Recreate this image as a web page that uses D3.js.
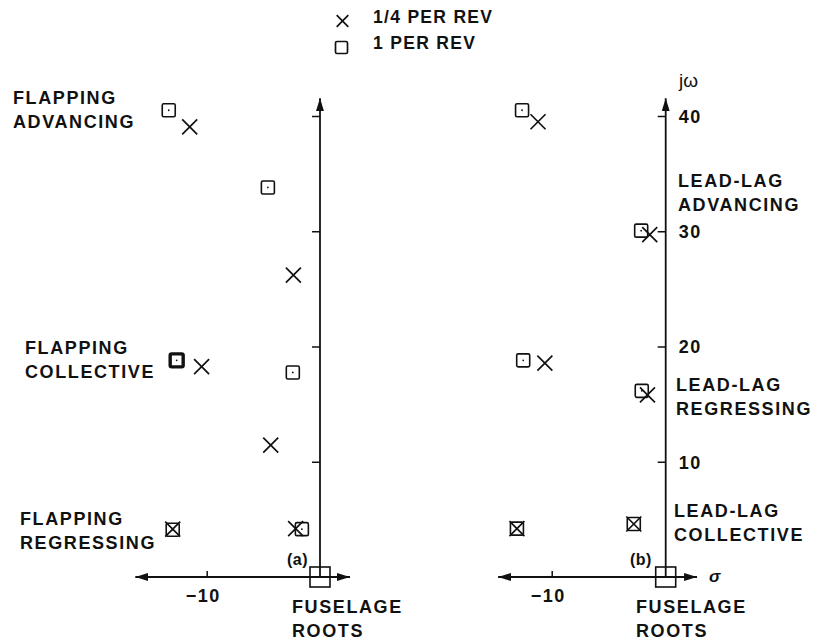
<!DOCTYPE html>
<html>
<head>
<meta charset="utf-8">
<script src="https://cdn.jsdelivr.net/npm/d3@7"></script>
<style>
body { margin: 0; background: #fff; }
text { font-family: "Liberation Sans", Arial, sans-serif; fill: #111; }
</style>
</head>
<body>
<div id="chart"></div>
<script>
// root locations [sigma, omega]
const quarterRevA = [[-11.5, 39.05], [-2.35, 26.2], [-10.45, 18.25], [-4.35, 11.45], [-13.0, 4.15], [-2.15, 4.2]];
const oneRevA = [[-13.35, 40.5], [-4.6, 33.8], [-12.65, 18.8], [-2.4, 17.75], [-13.0, 4.1], [-1.6, 4.15]];
const quarterRevB = [[-11.2, 39.5], [-1.4, 29.7], [-10.6, 18.55], [-1.6, 15.8], [-13.05, 4.2], [-2.8, 4.6]];
const oneRevB = [[-12.6, 40.5], [-2.15, 30.05], [-12.5, 18.8], [-2.1, 16.15], [-13.05, 4.2], [-2.8, 4.6]];
const doubleRootsA = [[-12.65, 18.8]];
const fuselageRoots = [[0, 0]];

const omegaTicks = [10, 20, 30, 40];
const sigmaTicks = [-10];
const legendLabels = ['1/4 PER REV', '1 PER REV'];

const width = 815, height = 642;

const svg = d3.select('#chart')
    .append('svg')
    .attr('width', width)
    .attr('height', height);

svg.append('defs').append('marker')
    .attr('id', 'arrow')
    .attr('viewBox', '0 0 13 8')
    .attr('refX', 13)
    .attr('refY', 4)
    .attr('markerWidth', 13)
    .attr('markerHeight', 8)
    .attr('markerUnits', 'userSpaceOnUse')
    .attr('orient', 'auto-start-reverse')
    .append('path')
    .attr('d', 'M0,0L13,4L0,8Z')
    .attr('fill', '#111');

let scaleY = d3.scaleLinear().domain([0, 40]).range([577, 116]);

const panels = [
    {x: d3.scaleLinear().domain([-10, 0]).range([206.7, 320]), quarter: quarterRevA, one: oneRevA,
     heavy: doubleRootsA, sMin: -16.3, sMax: 2.65, labels: false},
    {x: d3.scaleLinear().domain([-10, 0]).range([551.7, 665.7]), quarter: quarterRevB, one: oneRevB,
     heavy: [], sMin: -14.7, sMax: 2.75, labels: true}
];

const crossPath = s => `M${-s},${-s}L${s},${s}M${-s},${s}L${s},${-s}`;

panels.forEach(p => {
    let g = svg.append('g');
    let scaleX = p.x;

    // axes with arrows
    g.append('line')
        .attr('x1', scaleX(0)).attr('x2', scaleX(0))
        .attr('y1', scaleY(0)).attr('y2', scaleY(41.55))
        .attr('stroke', '#111').attr('stroke-width', 1.8)
        .attr('marker-end', 'url(#arrow)');
    g.append('line')
        .attr('x1', scaleX(p.sMin)).attr('x2', scaleX(p.sMax))
        .attr('y1', scaleY(0)).attr('y2', scaleY(0))
        .attr('stroke', '#111').attr('stroke-width', 1.8)
        .attr('marker-start', 'url(#arrow)')
        .attr('marker-end', 'url(#arrow)');

    let yAxis = d3.axisLeft(scaleY).tickValues(omegaTicks).tickSize(8)
        .tickFormat(p.labels ? d3.format('d') : '');
    let yAxisGroup = g.append('g')
        .attr('transform', 'translate(' + scaleX(0) + ',0)')
        .call(yAxis);
    yAxisGroup.select('.domain').remove();
    yAxisGroup.selectAll('line').attr('stroke', '#111').attr('stroke-width', 1.5);
    yAxisGroup.selectAll('text')
        .attr('x', 13).attr('dy', '0.36em')
        .attr('text-anchor', 'start')
        .style('font-size', '18px').style('font-weight', 'bold')
        .style('letter-spacing', '1.5px').style('fill', '#111');

    let xAxis = d3.axisTop(scaleX).tickValues(sigmaTicks).tickSize(6).tickFormat(d3.format('d'));
    let xAxisGroup = g.append('g')
        .attr('transform', 'translate(0,' + scaleY(0) + ')')
        .call(xAxis);
    xAxisGroup.select('.domain').remove();
    xAxisGroup.selectAll('line').attr('stroke', '#111').attr('stroke-width', 1.5);
    xAxisGroup.selectAll('text')
        .attr('y', 25).attr('dy', 0).attr('dx', -4)
        .style('font-size', '18px').style('font-weight', 'bold')
        .style('letter-spacing', '1.5px').style('fill', '#111');

    // 1 per rev squares
    let squares = g.selectAll('.sq').data(p.one).enter().append('g')
        .attr('class', 'sq')
        .attr('transform', d => 'translate(' + scaleX(d[0]) + ',' + scaleY(d[1]) + ')');
    squares.append('rect')
        .attr('x', -6.5).attr('y', -6.5).attr('width', 13).attr('height', 13).attr('rx', 1.5)
        .attr('fill', 'none').attr('stroke', '#111')
        .attr('stroke-width', d => p.heavy.some(h => h[0] == d[0] && h[1] == d[1]) ? 3.4 : 1.6);
    squares.append('circle').attr('r', 0.9).attr('fill', '#111');

    // 1/4 per rev crosses
    g.selectAll('.cross').data(p.quarter).enter().append('path')
        .attr('class', 'cross')
        .attr('d', crossPath(7.5))
        .attr('transform', d => 'translate(' + scaleX(d[0]) + ',' + scaleY(d[1]) + ')')
        .attr('fill', 'none').attr('stroke', '#111').attr('stroke-width', 1.7);

    // fuselage roots
    g.selectAll('.fus').data(fuselageRoots).enter().append('rect')
        .attr('x', d => scaleX(d[0]) - 10).attr('y', d => scaleY(d[1]) - 10)
        .attr('width', 20).attr('height', 20)
        .attr('fill', 'none').attr('stroke', '#111').attr('stroke-width', 1.6);
});

// annotations
const bold = sel => sel.style('font-size', '18px').style('font-weight', 'bold').style('letter-spacing', '1.6px');

function label(x, y1, lines) {
    let t = svg.append('text').call(bold);
    lines.forEach((s, i) => {
        t.append('tspan').attr('x', x).attr('y', y1 + i * 23.5).text(s);
    });
}

label(13, 104, ['FLAPPING', 'ADVANCING']);
label(25, 354, ['FLAPPING', 'COLLECTIVE']);
label(20, 525, ['FLAPPING', 'REGRESSING']);
label(292, 613, ['FUSELAGE', 'ROOTS']);
label(678, 187, ['LEAD-LAG', 'ADVANCING']);
label(676, 391, ['LEAD-LAG', 'REGRESSING']);
label(674, 517, ['LEAD-LAG', 'COLLECTIVE']);
label(636, 613, ['FUSELAGE', 'ROOTS']);

svg.append('text').attr('x', 287).attr('y', 565).text('(a)')
    .style('font-size', '16px').style('font-weight', 'bold').style('letter-spacing', '0.5px');
svg.append('text').attr('x', 630).attr('y', 565).text('(b)')
    .style('font-size', '16px').style('font-weight', 'bold').style('letter-spacing', '0.5px');
svg.append('text').attr('x', 709).attr('y', 582).text('σ')
    .style('font-size', '17px').style('font-style', 'italic').style('font-weight', 'bold');
svg.append('text').attr('x', 679).attr('y', 87).text('jω')
    .style('font-size', '19px');

// legend
let legend = svg.append('g');
legend.append('path')
    .attr('d', crossPath(5.8))
    .attr('transform', 'translate(342.5,21)')
    .attr('fill', 'none').attr('stroke', '#111').attr('stroke-width', 1.7);
legend.append('rect')
    .attr('x', 335.5).attr('y', 41.5).attr('width', 12).attr('height', 12).attr('rx', 1.5)
    .attr('fill', 'none').attr('stroke', '#111').attr('stroke-width', 1.7);
legend.selectAll('.lt').data(legendLabels).enter().append('text')
    .attr('class', 'lt')
    .attr('x', 373)
    .attr('y', (d, i) => i == 0 ? 22.7 : 49.3)
    .text(d => d)
    .style('font-size', '17.5px').style('font-weight', 'bold').style('letter-spacing', '1.3px');
</script>
</body>
</html>
